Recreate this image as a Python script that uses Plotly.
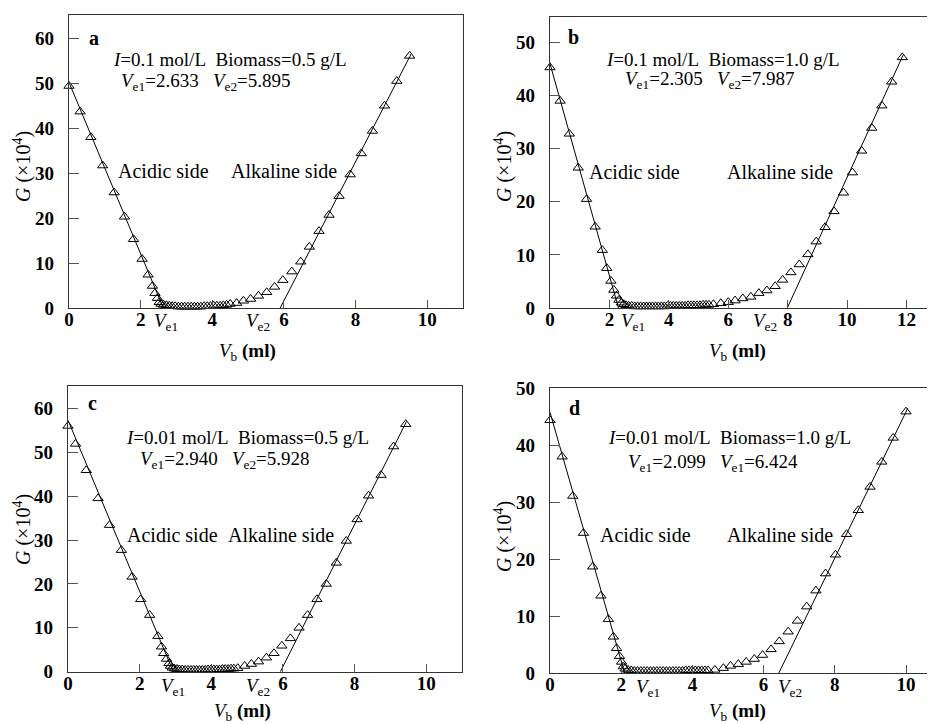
import plotly.graph_objects as go

W, H = 928, 724
SERIF = "Liberation Serif"

# ---------------- data ----------------
# panel a: I=0.1 mol/L, Biomass=0.5 g/L
a_vb = [0.00, 0.31, 0.61, 0.94, 1.26, 1.55, 1.80, 2.04, 2.21, 2.33, 2.40, 2.47, 2.52,
        2.57, 2.64, 2.72, 2.80, 2.88, 2.96, 3.05, 3.14, 3.23, 3.32, 3.41, 3.50, 3.59, 3.68,
        3.77, 3.86, 3.95, 4.04, 4.13, 4.22, 4.31, 4.40,
        4.50, 4.68, 4.87, 5.07, 5.29, 5.52, 5.74, 5.97, 6.22, 6.47, 6.71, 6.98, 7.26, 7.54,
        7.85, 8.16, 8.47, 8.81, 9.15, 9.51]
a_g = [49.4, 43.7, 38.0, 31.7, 25.7, 20.3, 15.3, 10.9, 7.4, 4.9, 3.3, 2.2, 1.3,
       0.9, 0.7, 0.6, 0.5, 0.4, 0.4, 0.3, 0.3, 0.3, 0.3, 0.3, 0.3, 0.3, 0.3,
       0.4, 0.4, 0.4, 0.5, 0.5, 0.5, 0.6, 0.7,
       0.9, 1.1, 1.6, 2.0, 2.7, 3.5, 4.7, 6.2, 8.1, 10.3, 13.6, 17.1, 20.7, 24.9,
       29.7, 34.4, 39.4, 45.0, 50.5, 56.1]
a_acid_fit_vb = [0.0, 2.633]
a_acid_fit_g = [50.2, 0.0]
a_alk_fit_vb = [5.895, 9.55]
a_alk_fit_g = [0.0, 56.5]

# panel b: I=0.1 mol/L, Biomass=1.0 g/L
b_vb = [0.00, 0.34, 0.65, 0.95, 1.23, 1.52, 1.76, 1.91, 2.05, 2.15, 2.24, 2.32, 2.41,
        2.48, 2.56, 2.65, 2.75, 2.85, 2.95, 3.05, 3.15, 3.25, 3.35, 3.45, 3.55, 3.65, 3.75,
        3.85, 3.95, 4.05, 4.15, 4.25, 4.35, 4.45, 4.55, 4.65, 4.75, 4.85, 4.95, 5.05, 5.15,
        5.25, 5.35,
        5.50, 5.75, 6.00, 6.23, 6.49, 6.76, 7.03, 7.30, 7.58, 7.83, 8.11, 8.39, 8.68, 8.96,
        9.26, 9.56, 9.88, 10.18, 10.49, 10.83, 11.17, 11.50, 11.86]
b_g = [45.3, 39.0, 32.8, 26.4, 20.5, 15.3, 10.9, 7.5, 5.1, 3.4, 2.3, 1.5, 1.0,
       0.7, 0.5, 0.4, 0.4, 0.3, 0.3, 0.3, 0.3, 0.3, 0.3, 0.3, 0.3, 0.3, 0.3,
       0.3, 0.4, 0.4, 0.4, 0.4, 0.4, 0.4, 0.4, 0.5, 0.5, 0.5, 0.5, 0.5, 0.6,
       0.6, 0.6,
       0.7, 0.9, 1.1, 1.4, 1.8, 2.1, 2.8, 3.3, 4.1, 5.3, 6.7, 8.2, 10.1, 12.5,
       15.2, 18.2, 21.7, 25.5, 29.6, 33.9, 38.1, 42.6, 47.2]
b_acid_fit_vb = [0.0, 2.305]
b_acid_fit_g = [46.0, 0.0]
b_alk_fit_vb = [7.987, 11.9]
b_alk_fit_g = [0.0, 47.8]

# panel c: I=0.01 mol/L, Biomass=0.5 g/L
c_vb = [0.00, 0.21, 0.51, 0.84, 1.16, 1.49, 1.79, 2.03, 2.28, 2.51, 2.61, 2.67, 2.75, 2.82, 2.86,
        2.91, 2.97, 3.04, 3.11, 3.19, 3.27, 3.35, 3.43, 3.51, 3.59, 3.67, 3.75, 3.83, 3.91,
        3.99, 4.07, 4.15, 4.23, 4.31, 4.39, 4.47, 4.55, 4.63,
        4.74, 4.93, 5.12, 5.32, 5.54, 5.75, 5.97, 6.21, 6.45, 6.69, 6.95, 7.21, 7.49, 7.77,
        8.07, 8.39, 8.74, 9.09, 9.43]
c_g = [56.0, 51.9, 45.9, 39.5, 33.4, 27.7, 21.6, 16.5, 12.9, 8.1, 5.7, 4.2, 2.9, 1.9, 1.3,
       0.9, 0.7, 0.6, 0.5, 0.5, 0.4, 0.4, 0.4, 0.4, 0.4, 0.4, 0.4, 0.4, 0.5,
       0.5, 0.5, 0.5, 0.5, 0.6, 0.6, 0.6, 0.7, 0.7,
       0.8, 1.3, 1.75, 2.3, 3.2, 4.2, 5.9, 7.6, 10.0, 12.9, 16.5, 20.0, 24.8, 29.8,
       34.7, 40.1, 44.8, 51.3, 56.4]
c_acid_fit_vb = [0.0, 2.940]
c_acid_fit_g = [57.3, 0.0]
c_alk_fit_vb = [5.928, 9.45]
c_alk_fit_g = [0.0, 57.0]

# panel d: I=0.01 mol/L, Biomass=1.0 g/L
d_vb = [0.00, 0.34, 0.64, 0.94, 1.20, 1.43, 1.64, 1.78, 1.87, 1.95, 2.01, 2.06,
        2.11, 2.19, 2.28, 2.37, 2.46, 2.55, 2.64, 2.73, 2.82, 2.91, 3.00, 3.09, 3.18, 3.27,
        3.36, 3.45, 3.54, 3.63, 3.72, 3.81, 3.90, 3.99, 4.08, 4.17, 4.26, 4.35, 4.44,
        4.63, 4.87, 5.07, 5.29, 5.51, 5.74, 5.97, 6.21, 6.44, 6.69, 6.95, 7.21, 7.47, 7.74,
        8.02, 8.33, 8.66, 8.99, 9.32, 9.64, 10.00]
d_g = [44.4, 38.0, 31.1, 24.6, 18.7, 13.6, 9.5, 6.4, 4.4, 3.0, 2.0, 1.2,
       0.8, 0.6, 0.5, 0.4, 0.4, 0.4, 0.4, 0.4, 0.4, 0.4, 0.4, 0.4, 0.4, 0.4,
       0.4, 0.4, 0.4, 0.4, 0.4, 0.5, 0.5, 0.5, 0.5, 0.5, 0.5, 0.5, 0.5,
       0.6, 0.9, 1.3, 1.6, 2.0, 2.5, 3.2, 4.2, 5.6, 7.3, 9.2, 11.7, 14.5, 17.5,
       20.8, 24.4, 28.6, 32.7, 37.1, 41.3, 45.9]
d_acid_fit_vb = [0.0, 2.099]
d_acid_fit_g = [45.8, 0.0]
d_alk_fit_vb = [6.424, 10.05]
d_alk_fit_g = [0.0, 46.5]

panel_letters = ["a", "b", "c", "d"]
cond_texts = ["<i>I</i>=0.1\u00a0mol/L\u00a0\u00a0Biomass=0.5 g/L",
              "<i>I</i>=0.1\u00a0mol/L\u00a0\u00a0Biomass=1.0 g/L",
              "<i>I</i>=0.01\u00a0mol/L\u00a0\u00a0Biomass=0.5 g/L",
              "<i>I</i>=0.01\u00a0mol/L\u00a0\u00a0Biomass=1.0 g/L"]
ve_texts = ["<i>V</i><sub>e1</sub>=2.633\u00a0\u00a0\u00a0<i>V</i><sub>e2</sub>=5.895",
            "<i>V</i><sub>e1</sub>=2.305\u00a0\u00a0\u00a0<i>V</i><sub>e2</sub>=7.987",
            "<i>V</i><sub>e1</sub>=2.940\u00a0\u00a0\u00a0<i>V</i><sub>e2</sub>=5.928",
            "<i>V</i><sub>e1</sub>=2.099\u00a0\u00a0\u00a0<i>V</i><sub>e1</sub>=6.424"]
x_ticks = [0, 2, 4, 6, 8, 10, 12]
y_ticks = [0, 10, 20, 30, 40, 50, 60]
x_ticklabels = ["0", "2", "4", "6", "8", "10", "12"]
y_ticklabels = ["0", "10", "20", "30", "40", "50", "60"]

panels = [
    dict(vb=a_vb, g=a_g, af=(a_acid_fit_vb, a_acid_fit_g), lf=(a_alk_fit_vb, a_alk_fit_g)),
    dict(vb=b_vb, g=b_g, af=(b_acid_fit_vb, b_acid_fit_g), lf=(b_alk_fit_vb, b_alk_fit_g)),
    dict(vb=c_vb, g=c_g, af=(c_acid_fit_vb, c_acid_fit_g), lf=(c_alk_fit_vb, c_alk_fit_g)),
    dict(vb=d_vb, g=d_g, af=(d_acid_fit_vb, d_acid_fit_g), lf=(d_alk_fit_vb, d_alk_fit_g)),
]

# ---------------- layout (pixel boxes) ----------------
boxes = [  # left, top, right, bottom in px
    (69, 15, 463, 308),
    (550, 17, 927, 308),
    (68, 386, 462, 671.7),
    (550, 388.3, 927, 673.3),
]
xranges = [[0, 11], [0, 12.69], [0, 11], [0, 10.59]]
yranges = [[0, 65.2], [0, 54.8], [0, 65.1], [0, 50]]
mirror_right = [True, False, True, False]

fig = go.Figure()
for i, p in enumerate(panels):
    xa = "x" if i == 0 else f"x{i+1}"
    ya = "y" if i == 0 else f"y{i+1}"
    line = dict(color="black", width=1)
    fig.add_trace(go.Scatter(x=p["af"][0], y=p["af"][1], mode="lines", line=line,
                             xaxis=xa, yaxis=ya, showlegend=False, hoverinfo="skip"))
    fig.add_trace(go.Scatter(x=p["lf"][0], y=p["lf"][1], mode="lines", line=line,
                             xaxis=xa, yaxis=ya, showlegend=False, hoverinfo="skip"))
    fig.add_trace(go.Scatter(x=p["vb"], y=p["g"], mode="markers",
                             marker=dict(symbol="triangle-up-open", size=9, color="black",
                                         line=dict(width=1, color="black")),
                             xaxis=xa, yaxis=ya, showlegend=False, cliponaxis=False))

layout = dict(width=W, height=H, margin=dict(l=0, r=0, t=0, b=0, autoexpand=False),
              paper_bgcolor="white", plot_bgcolor="white", showlegend=False,
              font=dict(family=SERIF, color="black"))
tickfont = dict(family=SERIF, size=19, color="black")
for i, (l, t, r, b) in enumerate(boxes):
    kx = "xaxis" if i == 0 else f"xaxis{i+1}"
    ky = "yaxis" if i == 0 else f"yaxis{i+1}"
    ax_x = "x" if i == 0 else f"x{i+1}"
    ax_y = "y" if i == 0 else f"y{i+1}"
    layout[kx] = dict(domain=[l / W, r / W], range=xranges[i], anchor=ax_y,
                      tickvals=x_ticks, ticktext=[f"<b>{s}</b>" for s in x_ticklabels],
                      ticks="inside", ticklen=8, tickcolor="#555", automargin=False,
                      showline=True, linecolor="#333", linewidth=1.3, mirror=True,
                      showgrid=False, zeroline=False, tickfont=tickfont,
                      ticklabelstandoff=-6)
    layout[ky] = dict(domain=[1 - b / H, 1 - t / H], range=yranges[i], anchor=ax_x,
                      tickvals=y_ticks, ticktext=[f"<b>{s}</b>" for s in y_ticklabels],
                      ticks="inside", ticklen=10, tickcolor="#555", automargin=False,
                      showline=True, linecolor="#333", linewidth=1.3,
                      mirror=mirror_right[i], showgrid=False, zeroline=False,
                      tickfont=tickfont, ticklabelstandoff=10)
fig.update_layout(**layout)

# ---------------- text annotations (pixel positions) ----------------
def add_text(txt, x, y, size=19, angle=0):
    fig.add_annotation(text=txt, x=x / W, y=1 - y / H, xref="paper", yref="paper",
                       xanchor="center", yanchor="middle", showarrow=False, textangle=angle,
                       font=dict(family=SERIF, size=size, color="black"))

pos = [
    dict(letter=(94, 38), c1=(230, 59), c2=(206, 82), acid=(163, 171), alk=(284, 171),
         ve1=(166, 322), ve2=(258, 322), xt=(247, 352), yt=(22, 167)),
    dict(letter=(573, 37), c1=(723, 59), c2=(710, 80), acid=(634, 172), alk=(780, 172),
         ve1=(633, 322), ve2=(765, 322), xt=(737, 352), yt=(503, 167)),
    dict(letter=(92, 403), c1=(247, 437), c2=(225, 460), acid=(172, 535), alk=(281, 535),
         ve1=(173, 687), ve2=(258, 687), xt=(243, 712), yt=(22, 530)),
    dict(letter=(574, 408), c1=(729, 437), c2=(713, 463), acid=(645, 535), alk=(780, 535),
         ve1=(648, 688), ve2=(790, 688), xt=(737, 712), yt=(503, 537)),
]
for i, q in enumerate(pos):
    add_text("<b>" + panel_letters[i] + "</b>", *q["letter"], size=20)
    add_text(cond_texts[i], *q["c1"], size=19)
    add_text(ve_texts[i], *q["c2"], size=19)
    add_text("Acidic side", *q["acid"], size=20)
    add_text("Alkaline side", *q["alk"], size=20)
    add_text("<i>V</i><sub>e1</sub>", *q["ve1"], size=19)
    add_text("<i>V</i><sub>e2</sub>", *q["ve2"], size=19)
    add_text("<i>V</i><sub>b</sub> <b>(ml)</b>", *q["xt"], size=19)
    add_text("<i>G</i> (×10<sup>4</sup>)", *q["yt"], size=20, angle=-90)

fig.write_html("out.html")
